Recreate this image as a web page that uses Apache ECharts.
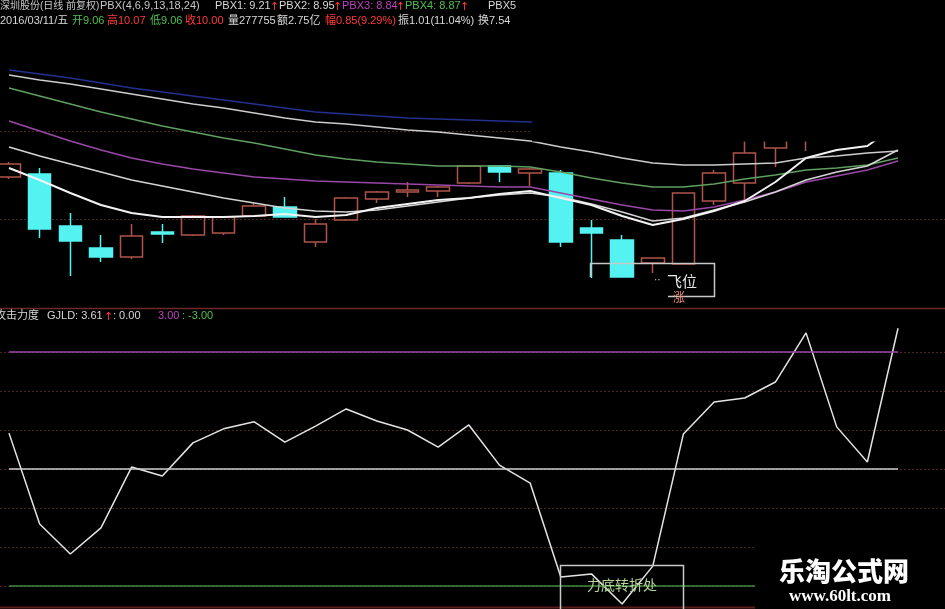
<!DOCTYPE html>
<html><head><meta charset="utf-8">
<script src="https://cdn.jsdelivr.net/npm/echarts@6/dist/echarts.min.js"></script>
<style>html,body{margin:0;padding:0;background:#000;}#c{width:945px;height:609px;}</style>
</head><body><div id="c"></div>
<script>
// ---- data ----
const dates = ['2016/01/25','2016/01/26','2016/01/27','2016/01/28','2016/01/29',
  '2016/02/01','2016/02/02','2016/02/03','2016/02/04','2016/02/05',
  '2016/02/15','2016/02/16','2016/02/17','2016/02/18','2016/02/19',
  '2016/02/22','2016/02/23','2016/02/24','2016/02/25','2016/02/26',
  '2016/02/29','2016/03/01','2016/03/02','2016/03/03','2016/03/04',
  '2016/03/07','2016/03/08','2016/03/09','2016/03/10','2016/03/11'];
// [open, close, low, high]
const candles = [
  [8.68,8.81,8.66,8.83],[8.71,8.16,8.07,8.77],[8.19,8.04,7.69,8.32],[7.97,7.88,7.83,8.10],
  [7.88,8.09,7.86,8.21],[8.13,8.11,8.02,8.21],[8.10,8.29,8.09,8.30],[8.12,8.28,8.10,8.29],
  [8.29,8.39,8.29,8.42],[8.38,8.28,8.28,8.48],[8.03,8.21,7.98,8.26],[8.25,8.47,8.24,8.48],
  [8.46,8.53,8.42,8.54],[8.53,8.55,8.48,8.63],[8.54,8.58,8.48,8.59],[8.62,8.79,8.61,8.80],
  [8.79,8.73,8.63,8.80],[8.72,8.76,8.59,8.77],[8.72,8.03,7.98,8.75],[8.17,8.12,7.67,8.25],
  [8.05,7.68,7.68,8.10],[7.82,7.87,7.72,7.87],[7.81,8.52,7.81,8.52],[8.44,8.72,8.40,8.75],
  [8.62,8.92,8.42,9.05],[8.97,9.20,8.78,9.30],[9.20,9.45,8.94,9.55],[9.40,9.30,9.12,9.50],
  [9.30,9.15,9.08,9.38],[9.06,10.00,9.06,10.07]];
const pbx1 = [8.77,8.65,8.52,8.40,8.32,8.28,8.28,8.28,8.29,8.31,8.28,8.30,8.37,8.41,8.45,
  8.47,8.51,8.54,8.47,8.40,8.29,8.20,8.26,8.34,8.44,8.63,8.87,8.95,8.99,9.21];
const pbx2 = [8.98,8.89,8.81,8.73,8.65,8.59,8.53,8.47,8.42,8.37,8.34,8.33,8.35,8.39,8.43,
  8.47,8.50,8.52,8.48,8.41,8.33,8.24,8.27,8.35,8.43,8.53,8.65,8.73,8.79,8.95];
const pbx3 = [9.24,9.14,9.04,8.95,8.87,8.81,8.76,8.72,8.68,8.66,8.64,8.63,8.62,8.61,8.60,
  8.59,8.58,8.58,8.52,8.46,8.40,8.35,8.34,8.38,8.45,8.53,8.63,8.69,8.75,8.84];
const pbx4 = [9.57,9.49,9.41,9.33,9.26,9.19,9.13,9.07,9.02,8.96,8.90,8.86,8.83,8.81,8.79,
  8.79,8.79,8.78,8.73,8.67,8.62,8.58,8.58,8.61,8.66,8.70,8.75,8.77,8.80,8.87];
const pbx5 = [9.70,9.65,9.61,9.56,9.51,9.46,9.41,9.37,9.32,9.27,9.23,9.21,9.18,9.15,9.13,
  9.10,9.07,9.04,8.98,8.93,8.87,8.82,8.80,8.80,8.81,8.82,8.87,8.89,8.92,8.94];
const pbx6 = [9.75,9.71,9.67,9.62,9.57,9.53,9.49,9.45,9.41,9.37,9.33,9.31,9.29,9.27,9.26,
  9.25,9.24,9.23,9.21,9.19,9.17,9.15,9.14,9.13,9.13,9.13,9.14,9.15,9.16,9.18];
const gjld = [0.92,-1.41,-2.18,-1.51,0.05,-0.18,0.67,1.03,1.21,0.69,1.10,1.54,1.23,1.00,0.56,
  1.13,0.10,-0.36,-2.77,-2.69,-3.46,-2.49,0.90,1.72,1.82,2.23,3.49,1.08,0.18,3.61];
const gjldLevels = [3, 0, -3];

// ---- chart ----
const chart = echarts.init(document.getElementById('c'), null, {renderer:'canvas'});
const F = '"Liberation Sans","Noto Sans CJK SC",sans-serif';
function txt(x, y, t, c, size, fam) {
  return {type:'text', x:x, y:y, z:120,
    style:{text:t, fill:c, font:(size||11)+'px '+(fam||F), verticalAlign:'middle', textVerticalAlign:'middle'}};
}
function arrow(x, y) { return txt(x, y, '↑', '#ff3a3a', 11, '"DejaVu Sans",sans-serif'); }
const W = '#d8d8d8', R = '#ff3a3a', G = '#4fc04f', P = '#c040c0';
function line(data, color, w) {
  return {type:'line', xAxisIndex:0, yAxisIndex:0, data:data, symbol:'none', silent:true,
    lineStyle:{color:color, width:w}};
}
const dotted = {show:true, lineStyle:{color:'#4e2626', width:1, type:[2,2]}};
const option = {
  backgroundColor:'#000',
  animation:false,
  grid:[
    {left:9, right:47, top:40, height:270},
    {left:9, right:47, top:352, height:234},
    {left:0, right:0, top:131, height:88},
    {left:0, right:0, top:352, height:234}
  ],
  xAxis:[
    {type:'category', gridIndex:0, data:dates, boundaryGap:false, show:false},
    {type:'category', gridIndex:1, data:dates, boundaryGap:false, show:false},
    {type:'value', gridIndex:2, min:0, max:1, show:false},
    {type:'value', gridIndex:3, min:0, max:1, show:false}
  ],
  yAxis:[
    {type:'value', gridIndex:0, min:7.35, max:10.05, show:false},
    {type:'value', gridIndex:1, min:-3, max:3, show:false},
    {type:'value', gridIndex:2, min:0, max:1, interval:1, axisLine:{show:false}, axisTick:{show:false}, axisLabel:{show:false}, splitLine:dotted},
    {type:'value', gridIndex:3, min:-3, max:3, interval:1, axisLine:{show:false}, axisTick:{show:false}, axisLabel:{show:false}, splitLine:dotted}
  ],
  series:[
    {type:'candlestick', xAxisIndex:0, yAxisIndex:0, data:candles, barWidth:23, clip:false, silent:true,
      itemStyle:{color:'rgba(0,0,0,0)', color0:'#55f2f2', borderColor:'#b05448', borderColor0:'#55f2f2', borderWidth:1.5}},
    line(pbx6, '#23308f', 1.5),
    line(pbx5, '#cccccc', 1.5),
    line(pbx4, '#5f9f5f', 1.5),
    line(pbx3, '#9a48a8', 1.5),
    line(pbx2, '#d4d4d4', 1.5),
    line(pbx1, '#f2f2f2', 2),
    {type:'line', xAxisIndex:1, yAxisIndex:1, data:gjld, symbol:'none', clip:false, silent:true,
      lineStyle:{color:'#e4e4e4', width:1.5},
      markLine:{silent:true, symbol:'none', label:{show:false},
        data:[
          {yAxis:gjldLevels[0], lineStyle:{color:'#9a48a8', width:1.5, type:'solid'}},
          {yAxis:gjldLevels[1], lineStyle:{color:'#cfcfcf', width:1.5, type:'solid'}},
          {yAxis:gjldLevels[2], lineStyle:{color:'#3f8a3f', width:1.5, type:'solid'}}
        ]}}
  ],
  graphic:[
    {type:'rect', z:100, shape:{x:532, y:30, width:413, height:111.5}, style:{fill:'#000'}},
    {type:'line', z:90, shape:{x1:0, y1:308.5, x2:945, y2:308.5}, style:{stroke:'#6e2a2a', lineWidth:1.5}},
    {type:'line', z:90, shape:{x1:0, y1:607.5, x2:945, y2:607.5}, style:{stroke:'#5a1c1c', lineWidth:2}},
    {type:'polyline', z:95, shape:{points:[[590.5,277],[590.5,263.5],[714.5,263.5],[714.5,296.5],[668,296.5]]}, style:{stroke:'#c8c8c8', lineWidth:1.5, fill:null}},
    txt(654, 280, '··', '#d0d0d0', 10),
    txt(667, 283, '飞位', '#e8e8e8', 15),
    txt(673, 299, '涨', '#f09080', 12),
    {type:'polyline', z:95, shape:{points:[[560.5,609],[560.5,565.5],[683.5,565.5],[683.5,609]]}, style:{stroke:'#c8c8c8', lineWidth:1.5, fill:null}},
    {type:'text', z:120, x:622, y:585, style:{text:'力底转折处', fill:'#b4d498', font:'14px "Noto Sans CJK SC",sans-serif', align:'center', textAlign:'center', verticalAlign:'middle', textVerticalAlign:'middle'}},
    {type:'rect', z:100, shape:{x:755, y:535, width:190, height:74}, style:{fill:'#000'}},
    {type:'text', z:101, x:844, y:571, style:{text:'乐淘公式网', fill:'#fff', font:'900 26px "Noto Sans CJK SC",sans-serif', align:'center', textAlign:'center', verticalAlign:'middle', textVerticalAlign:'middle'}},
    {type:'text', z:101, x:840, y:597, style:{text:'www.60lt.com', fill:'#fff', font:'bold 17px "Liberation Serif",serif', align:'center', textAlign:'center', verticalAlign:'middle', textVerticalAlign:'middle'}},
    // header line 1
    txt(0, 6, '深圳股份(日线 前复权)', '#c8c8c8', 10),
    txt(100, 6, 'PBX(4,6,9,13,18,24)', '#c8c8c8', 11),
    txt(215, 6, 'PBX1: 9.21', W, 11), arrow(270, 7),
    txt(279, 6, 'PBX2: 8.95', W, 11), arrow(333, 7),
    txt(342, 6, 'PBX3: 8.84', P, 11), arrow(396, 7),
    txt(405, 6, 'PBX4: 8.87', G, 11), arrow(460, 7),
    txt(488, 6, 'PBX5', W, 11),
    // header line 2
    txt(0, 21, '2016/03/11/五', W, 11),
    txt(72, 21, '开9.06', G, 11),
    txt(107, 21, '高10.07', R, 11),
    txt(150, 21, '低9.06', G, 11),
    txt(185, 21, '收10.00', R, 11),
    txt(228, 21, '量277755', W, 11),
    txt(277, 21, '额2.75亿', W, 11),
    txt(325, 21, '幅0.85(9.29%)', R, 11),
    txt(398, 21, '振1.01(11.04%)', W, 11),
    txt(478, 21, '换7.54', W, 11),
    // lower title
    txt(-5, 316, '攻击力度', W, 11),
    txt(47, 316, 'GJLD: 3.61', W, 11), arrow(104, 317),
    txt(113, 316, ': 0.00', W, 11),
    txt(158, 316, '3.00', P, 11),
    txt(182, 316, ': -3.00', G, 11)
  ]
};
chart.setOption(option);
</script>
</body></html>
